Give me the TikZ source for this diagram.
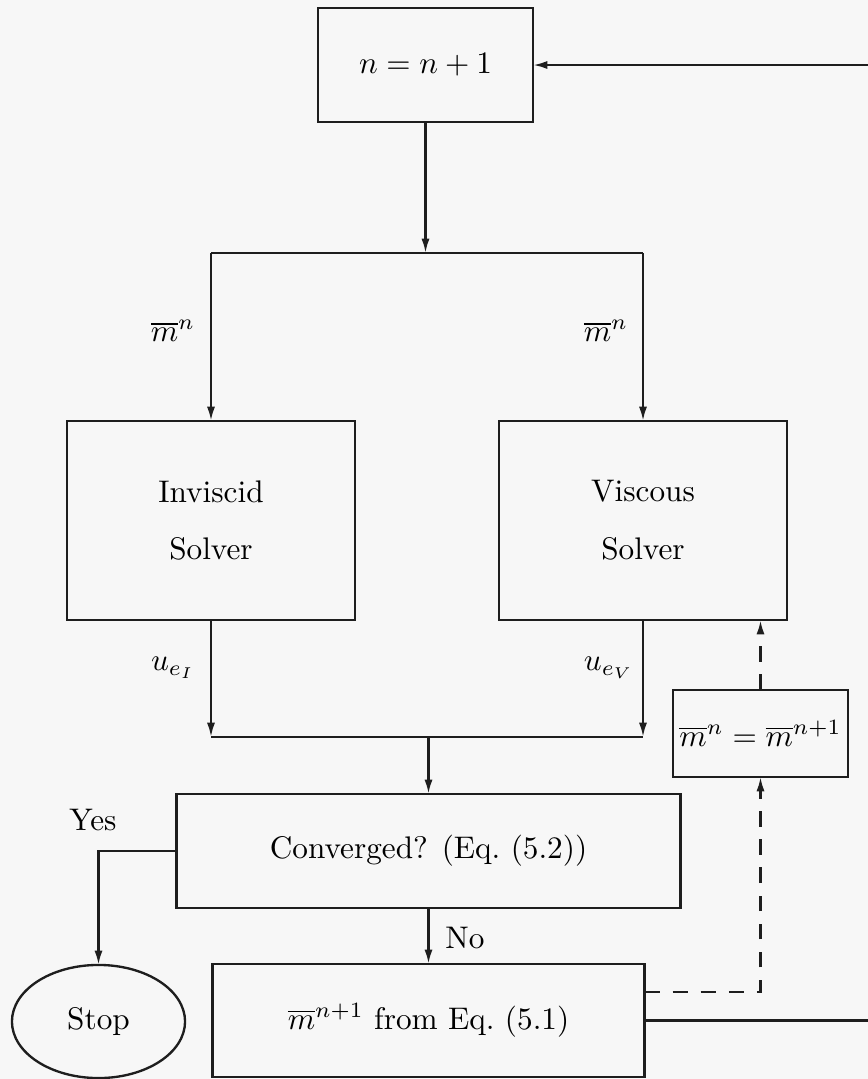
\documentclass[tikz,border=0pt]{standalone}
\usetikzlibrary{arrows.meta,shapes.geometric}
\definecolor{bgc}{RGB}{247,247,247}
\definecolor{ink}{RGB}{30,30,30}
\begin{document}
\begin{tikzpicture}[x=0.32pt,y=-0.32pt,
  box/.style={draw=ink, line width=0.75pt, rectangle, inner sep=0pt, outer sep=0pt, align=center},
  oval/.style={draw=ink, line width=0.75pt, ellipse, inner sep=0pt, outer sep=0pt},
  arr/.style={draw=ink, line width=0.75pt, -{Latex[length=4.6pt,width=2.6pt]}},
  dline/.style={arr, dash pattern=on 5pt off 4pt},
  plain/.style={draw=ink, line width=0.75pt},
  lbl/.style={inner sep=0pt}]
\fill[bgc] (0,0) rectangle (868,1079);
\useasboundingbox (0,0) rectangle (868,1079);

% nodes
\node[box, minimum width=68.8pt, minimum height=36.5pt] (top) at (425.5,65) {$n=n+1$};
\node[box, minimum width=92.2pt, minimum height=63.7pt] (inv) at (211,520.5) {Inviscid\\[6.5pt]Solver};
\node[box, minimum width=92.2pt, minimum height=63.7pt] (visc) at (643,520.5) {Viscous\\[6.5pt]Solver};
\node[box, minimum width=161.3pt, minimum height=36.5pt] (conv) at (428.5,851) {Converged? (Eq.~(5.2))};
\node[box, minimum width=138.2pt, minimum height=36.2pt] (upd) at (428.5,1020.5) {$\overline{m}^{n+1}$ from Eq.~(5.1)};
\node[box, minimum width=56pt, minimum height=27.8pt] (mb) at (760.5,733.5) {$\overline{m}^n=\overline{m}^{n+1}$};
\node[oval, minimum width=55.4pt, minimum height=36.2pt] (stop) at (98.5,1021.5) {Stop};

% labels
\node[lbl] (lm1) at (173,331) {$\overline{m}^n$};
\node[lbl] (lm2) at (606,331) {$\overline{m}^n$};
\node[lbl] (lu1) at (173,668) {$u_{e_I}$};
\node[lbl] (lu2) at (609,668) {$u_{e_V}$};
\node[lbl] (lyes) at (93,820) {Yes};
\node[lbl] (lno) at (465,938) {No};

% coordinates
\coordinate (rin) at (868,65);
\coordinate (split) at (425.5,253);
\coordinate (sL) at (211,253);
\coordinate (sR) at (643,253);
\coordinate (mL) at (211,737);
\coordinate (mR) at (643,737);
\coordinate (mC) at (428.5,737);
\coordinate (rout) at (868,1020.5);

% connectors
\draw[arr] (rin) -- (top.east);
\draw[arr] (top.south) -- (split);
\draw[plain] (sL) -- (sR);
\draw[arr] (sL) -- (inv.north);
\draw[arr] (sR) -- (visc.north);
\draw[arr] (inv.south) -- (mL);
\draw[arr] (visc.south) -- (mR);
\draw[plain] (mL) -- (mR);
\draw[arr] (mC) -- (conv.north);
\draw[arr] (conv.west) -| (stop.north);
\draw[arr] (conv.south) -- (upd.north);
\draw[plain] (upd.east) -- (rout);
\draw[dline] (upd.east |- 0,992) -| (mb.south);
\draw[dline] (mb.north) -- (visc.south -| mb.north);
\end{tikzpicture}
\end{document}
